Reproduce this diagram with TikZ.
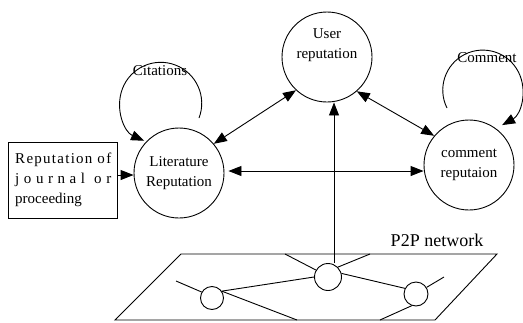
\documentclass[tikz,border=0pt]{standalone}
\usepackage{fontspec}
\setmainfont{Liberation Serif}
\usetikzlibrary{arrows.meta}
\begin{document}
\begin{tikzpicture}[x=1pt,y=-1pt,line width=0.9pt,
  big/.style={circle,draw,minimum size=90pt,inner sep=0pt},
  txt/.style={align=center,inner sep=0pt,font=\fontsize{15}{19.5}\selectfont},
  small/.style={circle,draw,inner sep=0pt},
  tip/.tip={Triangle[length=13pt,width=10pt]},
  arr/.style={-tip},
  darr/.style={tip-tip}]
\useasboundingbox (0,0) rectangle (523,322);
% main circles
\node[big] (user) at (327,57) {};
\node[txt] (usertxt) at (327,45) {User\\reputation};
\node[big,txt] (lit) at (179,173) {Literature\\Reputation};
\node[big,txt] (comment) at (469,165) {comment\\reputaion};
% box
\node[draw,minimum width=109pt,minimum height=76pt,inner sep=0pt,
      font=\fontsize{15}{20}\selectfont,align=left] (box) at (62.5,180)
  {\hspace*{1.5pt}\makebox[96pt][s]{R\hfill e\hfill p\hfill u\hfill t\hfill a\hfill t\hfill i\hfill o\hfill n\hskip 3.75pt plus 1fill o\hfill f}\\
   \hspace*{1.5pt}\makebox[96pt][s]{j\hfill o\hfill u\hfill r\hfill n\hfill a\hfill l\hfill\hfill o\hfill r}\\
   \hspace*{1.5pt}\makebox[96pt][l]{proceeding}};
% loop labels
\node[txt] (cit) at (160,71) {Citations};
\node[txt] (com) at (487,58) {Comment};
\node[inner sep=0pt,font=\fontsize{18}{20}\selectfont] (p2p) at (437,240) {P2P network};
% connectors
\coordinate (y175) at (0,175);
\coordinate (y171) at (0,171);
\coordinate (vx) at (334,0);
\draw[darr] (lit.40) -- (user.-133);
\draw[darr] (user.-49) -- (comment.140);
\draw[darr,shorten <=4pt] (lit.east |- y171) -- (comment.west |- y171);
\draw[arr] (box.east |- y175) -- (lit.west |- y175);
% loops
\coordinate (citS) at (199,118);
\draw[arr] (citS) arc[start angle=21,end angle=-246,radius=41];
\coordinate (comS) at (447,108);
\draw[arr] (comS) arc[start angle=-206.6,end angle=61,radius=40];
% network
\draw (181,254) -- (497,254) -- (435,320) -- (115,320) -- cycle;
\node[small,minimum size=23pt] (n1) at (212,298) {};
\node[small,minimum size=27pt] (n2) at (328,277) {};
\node[small,minimum size=24pt] (n3) at (416,294) {};
\coordinate (e1) at (176,281);
\coordinate (e2) at (297,320);
\coordinate (e3) at (285,254);
\coordinate (e4) at (370,254);
\coordinate (e5) at (444,277);
\coordinate (e6) at (380,320);
\draw (e1) -- (n1.150);
\draw (n1.35) -- (n2.west);
\draw (n1.35) -- (e2);
\draw (e3) -- (n2.150);
\draw (e4) -- (n2.45);
\draw (n2.15) -- (n3.153);
\draw (n3.32) -- (e5);
\draw (n3.-110) -- (e6);
\draw[arr] (n2.north -| vx) -- (user.south -| vx);
\end{tikzpicture}
\end{document}
